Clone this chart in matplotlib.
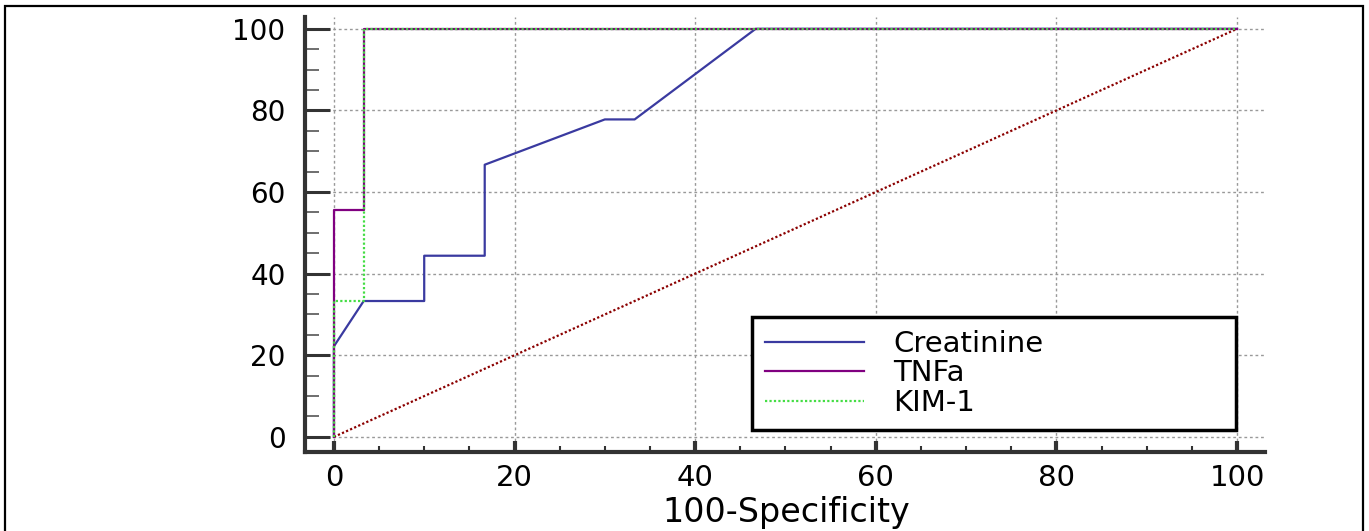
import matplotlib
matplotlib.use('Agg')
import matplotlib.pyplot as plt
from matplotlib.patches import Rectangle
from matplotlib.ticker import MultipleLocator

# ROC curves (x = 100-Specificity, y = Sensitivity)
creat_x = [0, 0, 3.3, 10, 10, 16.7, 16.7, 30, 33.3, 46.7, 100]
creat_y = [0, 22.2, 33.3, 33.3, 44.4, 44.4, 66.7, 77.8, 77.8, 100, 100]
tnf_x = [0, 0, 3.3, 3.3, 100]
tnf_y = [0, 55.6, 55.6, 100, 100]
kim_x = [0, 0, 3.3, 3.3, 100]
kim_y = [0, 33.3, 33.3, 100, 100]
diag_x = [0, 100]
diag_y = [0, 100]
ticks = [0, 20, 40, 60, 80, 100]

plt.rcParams['font.family'] = ['DejaVu Sans']

fig = plt.figure(figsize=(13.69, 5.31), dpi=100)
ax = fig.add_axes([305/1369, 79/531, 960/1369, 435/531])

ax.plot(diag_x, diag_y, color='#8b0000', lw=1.6, ls=(0, (1, 1)), zorder=2)
ax.plot(creat_x, creat_y, color='#3a3aa0', lw=1.6, label='Creatinine', zorder=3)
ax.plot(tnf_x, tnf_y, color='#800080', lw=1.6, label='TNFa', zorder=3)
ax.plot(kim_x, kim_y, color='#44dd44', lw=1.6, ls=(0, (1, 1)), label='KIM-1', zorder=4)

ax.set_xlim(-3.2, 103.1)
ax.set_ylim(-3.7, 102.9)
ax.set_xticks(ticks)
ax.set_yticks(ticks)
ax.xaxis.set_minor_locator(MultipleLocator(5))
ax.yaxis.set_minor_locator(MultipleLocator(5))
ax.grid(True, which='major', color='#999999', ls=(0, (2, 2)), lw=1)

for s in ['top', 'right']:
    ax.spines[s].set_visible(False)
for s in ['left', 'bottom']:
    ax.spines[s].set_linewidth(3)
    ax.spines[s].set_color('#333333')

ax.tick_params(axis='y', which='major', direction='in', length=18, width=2.2,
               color='#333333', pad=14, labelsize=20)
ax.tick_params(axis='y', which='minor', direction='in', length=10, width=1.2,
               color='#555555')
ax.tick_params(axis='x', which='major', direction='in', length=8, width=3,
               color='#333333', pad=9, labelsize=21)
ax.tick_params(axis='x', which='minor', direction='in', length=4, width=1.5,
               color='#333333')

leg = ax.legend(loc='lower left', bbox_to_anchor=(0.4656, 0.0506, 0.5044, 0.2594),
                mode='expand', fontsize=21, frameon=True, fancybox=False,
                framealpha=1, edgecolor='black', handlelength=3.4,
                handletextpad=1.0, labelspacing=0.05, borderpad=0.45,
                borderaxespad=0)
leg.get_frame().set_linewidth(2.5)

fig.text(786/1369, 2/531, '100-Specificity', ha='center', va='bottom',
         fontsize=24)

fig.patches.append(Rectangle((5/1369, -0.2), 1358/1369, 1.2 - 6/531,
                             transform=fig.transFigure, fill=False,
                             edgecolor='black', lw=1.6))

fig.savefig('out.png', dpi=100)
